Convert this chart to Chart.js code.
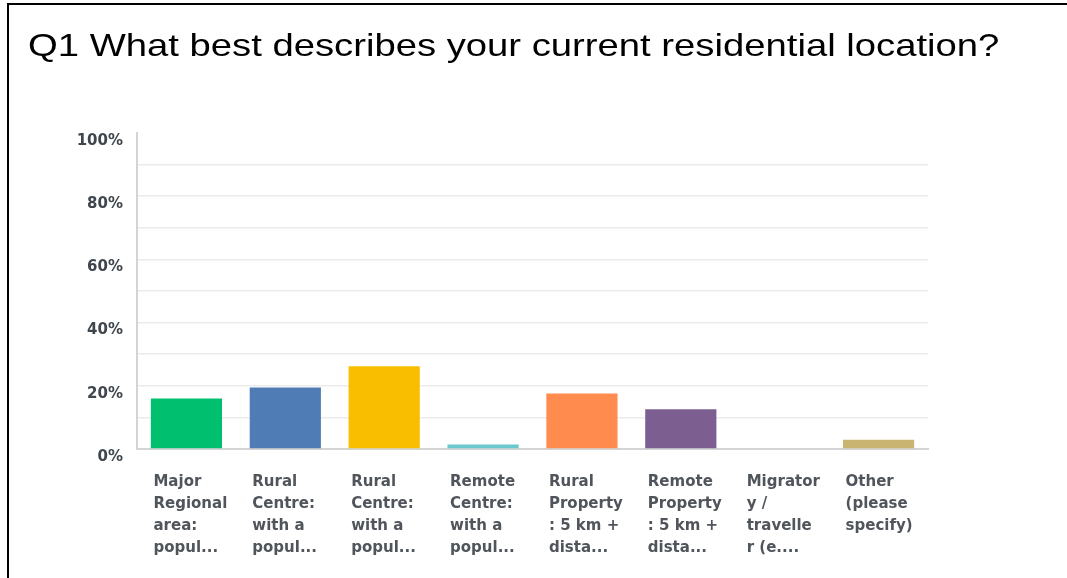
<!DOCTYPE html>
<html>
<head>
<meta charset="utf-8">
<script src="https://cdn.jsdelivr.net/npm/chart.js@4/dist/chart.umd.min.js"></script>
<style>
  html, body { margin: 0; padding: 0; background: #fff; }
  #wrap { position: relative; width: 1067px; height: 578px; overflow: hidden; }
  #frame { position: absolute; left: 7px; top: 3px; width: 1070px; height: 600px;
           border-top: 2px solid #000; border-left: 2px solid #000; }
  canvas { position: absolute; left: 0; top: 0; }
</style>
</head>
<body>
<div id="wrap">
  <div id="frame"></div>
  <canvas id="surveyChart" width="1067" height="578"></canvas>
</div>
<script>
const titleText = 'Q1 What best describes your current residential location?';
// answer choices, as shown (truncated) under the bars
const categories = [
    ['Major', 'Regional', 'area:', 'popul...'],
    ['Rural', 'Centre:', 'with a', 'popul...'],
    ['Rural', 'Centre:', 'with a', 'popul...'],
    ['Remote', 'Centre:', 'with a', 'popul...'],
    ['Rural', 'Property', ': 5 km +', 'dista...'],
    ['Remote', 'Property', ': 5 km +', 'dista...'],
    ['Migrator', 'y /', 'travelle', 'r (e....'],
    ['Other', '(please', 'specify)']
];
const responses = [16.0, 19.5, 26.2, 1.4, 17.6, 12.6, 0, 2.9];
const barColors = ['#00BF6F', '#507CB6', '#F9BE00', '#6BC8CD', '#FF8B4F', '#7D5E90', '#D25F90', '#C9B571'];
const yTicks = [0, 20, 40, 60, 80, 100];

// title is drawn a bit wider than the font, like the screenshot
const wideTitle = {
    id: 'wideTitle',
    afterDraw(chart) {
        const c = chart.ctx;
        c.save();
        c.font = '32px "Liberation Sans", Arial, sans-serif';
        c.fillStyle = '#000';
        c.textAlign = 'left';
        c.textBaseline = 'alphabetic';
        c.translate(28, 56);
        c.scale(1.195, 1);
        c.fillText(titleText, 0, 0);
        c.restore();
    }
};

const labelFont = '"DejaVu Sans", sans-serif';
const ctx = document.getElementById('surveyChart').getContext('2d');

const chart = new Chart(ctx, {
    type: 'bar',
    data: {
        labels: categories,
        datasets: [{
            label: 'Responses',
            data: responses,
            backgroundColor: barColors,
            borderWidth: 0,
            barPercentage: 0.72,
            categoryPercentage: 1
        }]
    },
    options: {
        responsive: false,
        animation: false,
        layout: { padding: { top: 133, left: 27, right: 139, bottom: 0 } },
        plugins: {
            legend: { display: false },
            tooltip: { enabled: false },
            title: { display: false }
        },
        scales: {
            x: {
                grid: { display: false },
                border: { color: '#d4d4d4', width: 2 },
                ticks: {
                    autoSkip: false,
                    maxRotation: 0,
                    minRotation: 0,
                    align: 'start',
                    labelOffset: -33,
                    padding: 14,
                    color: '#50555c',
                    font: { family: labelFont, size: 15, weight: 'bold', lineHeight: 1.467 }
                },
                afterFit: scale => { scale.height = 129; }
            },
            y: {
                min: 0,
                max: 100,
                grid: {
                    drawTicks: false,
                    color: c => (c.tick && c.tick.value === 100) ? 'rgba(0,0,0,0)' : '#ebebeb',
                    lineWidth: 1.5
                },
                border: { color: '#d4d4d4', width: 2 },
                ticks: {
                    stepSize: 10,
                    padding: 14,
                    labelOffset: 8,
                    color: '#3f464d',
                    font: { family: labelFont, size: 15, weight: 'bold' },
                    callback: v => yTicks.includes(v) ? v + '%' : ''
                },
                afterFit: scale => { scale.width = 110; }
            }
        }
    },
    plugins: [wideTitle]
});
</script>
</body>
</html>
